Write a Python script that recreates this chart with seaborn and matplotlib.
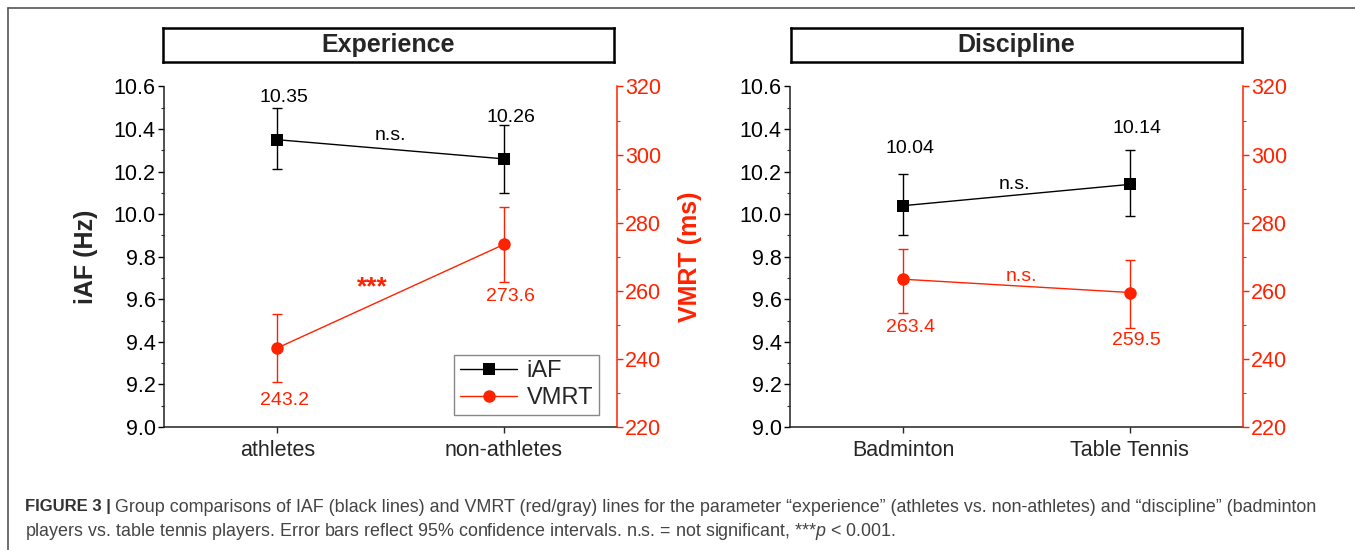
import matplotlib.pyplot as plt
import numpy as np
import pandas as pd
import seaborn as sns
from matplotlib.lines import Line2D
from matplotlib.ticker import MultipleLocator

sns.set_style("ticks")
plt.rcParams["font.family"] = ["Liberation Sans", "DejaVu Sans"]
plt.rcParams["mathtext.fontset"] = "custom"
plt.rcParams["mathtext.rm"] = "Liberation Sans"
plt.rcParams["mathtext.it"] = "Liberation Sans:italic"

RED = "#ff2200"

# Experience panel
exp_groups = ["athletes", "non-athletes"]
exp_iaf = [10.35, 10.26]
exp_iaf_lo = [10.21, 10.10]
exp_iaf_hi = [10.50, 10.42]
exp_vmrt = [243.2, 273.6]
exp_vmrt_lo = [233.1, 262.6]
exp_vmrt_hi = [253.2, 284.7]

# Discipline panel
dis_groups = ["Badminton", "Table Tennis"]
dis_iaf = [10.04, 10.14]
dis_iaf_lo = [9.90, 9.99]
dis_iaf_hi = [10.19, 10.30]
dis_vmrt = [263.4, 259.5]
dis_vmrt_lo = [253.6, 249.0]
dis_vmrt_hi = [272.3, 268.9]

W, H = 1355, 550
fig = plt.figure(figsize=(W / 100, H / 100), dpi=100)


def px_rect(x0, x1, ytop, ybot):
    return [x0 / W, 1 - ybot / H, (x1 - x0) / W, (ybot - ytop) / H]


def draw_panel(rect, title_rect, title, groups, iaf, iaf_lo, iaf_hi,
               vmrt, vmrt_lo, vmrt_hi, iaf_lab_y, vmrt_lab_y, sig):
    ax = fig.add_axes(rect)
    ax2 = ax.twinx()
    pos = np.arange(len(groups))
    df = pd.DataFrame({"pos": pos, "iaf": iaf, "vmrt": vmrt})

    iaf_a, vmrt_a = np.array(iaf), np.array(vmrt)
    ax.errorbar(pos, iaf_a, yerr=[iaf_a - iaf_lo, np.array(iaf_hi) - iaf_a],
                fmt="none", ecolor="black", elinewidth=1, capsize=3.5,
                capthick=1)
    sns.lineplot(data=df, x="pos", y="iaf", ax=ax, color="black",
                 marker="s", markersize=8, markeredgecolor="black",
                 markeredgewidth=0, linewidth=1, errorbar=None,
                 label="iAF", legend=False)
    ax2.errorbar(pos, vmrt_a,
                 yerr=[vmrt_a - vmrt_lo, np.array(vmrt_hi) - vmrt_a],
                 fmt="none", ecolor=RED, elinewidth=1, capsize=3.5,
                 capthick=1)
    sns.lineplot(data=df, x="pos", y="vmrt", ax=ax2, color=RED,
                 marker="o", markersize=9, markeredgecolor=RED,
                 markeredgewidth=0, linewidth=1, errorbar=None,
                 label="VMRT", legend=False)

    # value labels
    for x, v, y in zip(pos, iaf, iaf_lab_y):
        ax.text(x + 0.03, y, f"{v:.2f}", ha="center", va="center",
                fontsize=14, color="black")
    for x, v, y in zip(pos, vmrt, vmrt_lab_y):
        ax2.text(x + 0.03, y, f"{v:.1f}", ha="center", va="center",
                 fontsize=14, color=RED)
    for axis, (x, y, s, c, fs, fw) in sig:
        a = ax if axis == "iaf" else ax2
        a.text(x, y, s, ha="center", va="center", color=c, fontsize=fs,
               fontweight=fw)

    ax.set_xlim(-0.5, 1.5)
    ax.set_xticks(pos, groups)
    ax.set_ylim(9.0, 10.6)
    ax.yaxis.set_major_locator(MultipleLocator(0.2))
    ax.yaxis.set_minor_locator(MultipleLocator(0.1))
    ax.yaxis.set_major_formatter(plt.FormatStrFormatter("%.1f"))
    ax2.set_ylim(220, 320)
    ax2.yaxis.set_major_locator(MultipleLocator(20))
    ax2.yaxis.set_minor_locator(MultipleLocator(10))
    ax.set_xlabel("")
    ax.set_ylabel("")
    ax2.set_ylabel("")

    for a in (ax, ax2):
        a.set_facecolor("none")
        a.spines["top"].set_visible(False)
    ax.spines["right"].set_visible(False)
    ax2.spines["left"].set_visible(False)
    ax2.spines["bottom"].set_visible(False)
    for s in ("left", "bottom"):
        ax.spines[s].set_linewidth(1.1)
        ax.spines[s].set_color("#222222")
    ax2.spines["right"].set_linewidth(1.1)
    ax2.spines["right"].set_color(RED)

    ax.tick_params(axis="y", which="major", direction="out", length=4,
                   width=1, labelsize=15.5, pad=2, colors="black")
    ax.tick_params(axis="y", which="minor", direction="out", length=2.5,
                   width=0.8)
    ax.tick_params(axis="x", direction="out", length=4, width=1,
                   labelsize=15.5, pad=5)
    ax2.tick_params(axis="y", which="major", direction="out", length=4,
                    width=1, labelsize=15.5, pad=2, colors=RED)
    ax2.tick_params(axis="y", which="minor", direction="out", length=2.5,
                    width=0.8, colors=RED)

    tax = fig.add_axes(title_rect)
    tax.set_xticks([])
    tax.set_yticks([])
    for s in tax.spines.values():
        s.set_linewidth(1.8)
        s.set_color("black")
    tax.text(0.5, 0.5, title, ha="center", va="center", fontsize=18,
             fontweight="bold", transform=tax.transAxes)
    return ax, ax2


ax_l, ax_l2 = draw_panel(
    px_rect(164, 617, 86.5, 427), px_rect(163, 614, 28, 62), "Experience",
    exp_groups, exp_iaf, exp_iaf_lo, exp_iaf_hi,
    exp_vmrt, exp_vmrt_lo, exp_vmrt_hi,
    iaf_lab_y=[10.547, 10.455], vmrt_lab_y=[227.9, 258.2],
    sig=[("iaf", (0.50, 10.37, "n.s.", "black", 14, "normal")),
         ("vmrt", (0.42, 261.0, "***", RED, 19, "bold"))],
)
ax_r, ax_r2 = draw_panel(
    px_rect(790, 1243, 86.5, 427), px_rect(791, 1242, 28, 62), "Discipline",
    dis_groups, dis_iaf, dis_iaf_lo, dis_iaf_hi,
    dis_vmrt, dis_vmrt_lo, dis_vmrt_hi,
    iaf_lab_y=[10.31, 10.404], vmrt_lab_y=[249.1, 245.3],
    sig=[("iaf", (0.49, 10.141, "n.s.", "black", 14, "normal")),
         ("vmrt", (0.52, 264.3, "n.s.", RED, 14, "normal"))],
)

ax_l.set_ylabel("iAF (Hz)", fontsize=18, fontweight="bold", labelpad=11)
ax_l2.set_ylabel("VMRT (ms)", fontsize=18, fontweight="bold", color=RED,
                 labelpad=12)

h1, l1 = ax_l.get_legend_handles_labels()
h2, l2 = ax_l2.get_legend_handles_labels()
leg = ax_l2.legend(h1 + h2, l1 + l2, loc="lower right",
                   bbox_to_anchor=(0.96, 0.035), borderaxespad=0,
                   fontsize=17, frameon=True, fancybox=False,
                   edgecolor="#888888", framealpha=1, handlelength=2.4,
                   handletextpad=0.4, labelspacing=0.2, borderpad=0.25)
leg.get_frame().set_linewidth(1)

# outer frame of the figure panel
fig.add_artist(Line2D([8 / W, 1], [1 - 8 / H, 1 - 8 / H],
                      transform=fig.transFigure, color="#555555", lw=1.2))
fig.add_artist(Line2D([8 / W, 8 / W], [0, 1 - 8 / H],
                      transform=fig.transFigure, color="#555555", lw=1.2))

# caption
cap = fig.text(25 / W, 1 - 507 / H, "FIGURE 3 |", fontsize=12,
               fontweight="bold", color="#333333", va="center")
ax_l.annotate(
    "Group comparisons of IAF (black lines) and VMRT (red/gray) lines for the "
    "parameter \u201cexperience\u201d (athletes vs. non-athletes) and "
    "\u201cdiscipline\u201d (badminton",
    xy=(1, 0.5), xycoords=cap, xytext=(3, 0), textcoords="offset points",
    va="center", fontsize=12.9, color="#444444", annotation_clip=False)
fig.text(25 / W, 1 - 531 / H,
         "players vs. table tennis players. Error bars reflect 95% confidence "
         "intervals. n.s. = not significant, ***$p$ < 0.001.",
         fontsize=12.9, color="#444444", va="center")

fig.savefig("out.png", dpi=100)
